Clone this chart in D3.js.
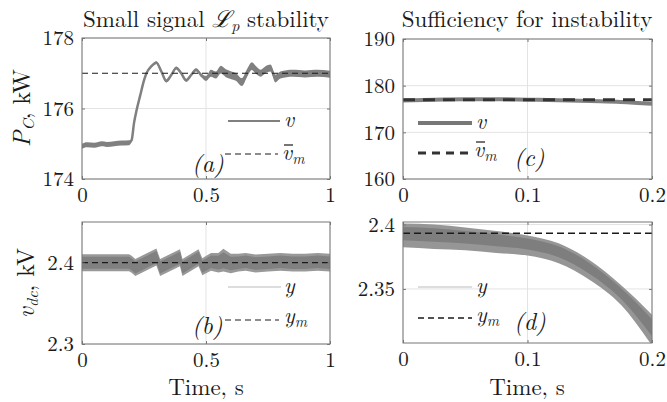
<!DOCTYPE html>
<html>
<head>
<meta charset="utf-8">
<script src="https://cdn.jsdelivr.net/npm/d3@7"></script>
<style>
  body { margin: 0; background: #fff; }
</style>
</head>
<body>
<svg width="667" height="402"></svg>
<script>
// (a) power, small signal case
var tA = [0, 0.02, 0.05, 0.08, 0.1, 0.13, 0.16, 0.19, 0.2, 0.21, 0.22, 0.234, 0.25, 0.26, 0.28, 0.3, 0.32, 0.34, 0.36, 0.38, 0.40, 0.42, 0.44, 0.46, 0.48, 0.5, 0.52, 0.54, 0.56, 0.58, 0.6, 0.62, 0.645, 0.665, 0.685, 0.7, 0.72, 0.74, 0.76, 0.78, 0.8, 0.85, 0.9, 0.95, 1.0];
var vA = [174.93, 174.97, 174.96, 175.0, 174.98, 175.0, 175.02, 175.03, 175.1, 175.6, 175.95, 176.35, 176.8, 177.0, 177.2, 177.3, 177.05, 176.78, 176.95, 177.15, 177.0, 176.8, 176.95, 177.1, 176.95, 176.85, 177.0, 176.95, 177.1, 177.0, 176.95, 176.9, 176.75, 177.0, 177.2, 177.1, 177.0, 177.1, 177.15, 176.85, 176.95, 177.0, 176.98, 177.0, 176.97];
var nA = [0.07, 0.07, 0.07, 0.07, 0.07, 0.07, 0.07, 0.07, 0.03, 0.02, 0.02, 0.02, 0.02, 0.02, 0.03, 0.04, 0.04, 0.04, 0.04, 0.04, 0.04, 0.04, 0.04, 0.04, 0.05, 0.07, 0.1, 0.1, 0.11, 0.11, 0.11, 0.11, 0.11, 0.11, 0.11, 0.11, 0.1, 0.1, 0.1, 0.11, 0.1, 0.1, 0.1, 0.1, 0.1];
var vmA = 177;

// (b) dc voltage, small signal case
var tB = [0, 0.1, 0.19, 0.2, 0.215, 0.3, 0.315, 0.395, 0.405, 0.47, 0.485, 0.52, 0.55, 0.57, 0.6, 0.63, 0.66, 0.7, 0.75, 0.8, 0.85, 0.9, 0.95, 1.0];
var yB = [2.400, 2.400, 2.400, 2.398, 2.394, 2.407, 2.394, 2.406, 2.394, 2.406, 2.395, 2.401, 2.400, 2.403, 2.399, 2.400, 2.401, 2.399, 2.400, 2.401, 2.400, 2.400, 2.401, 2.400];
var hB = [0.0105, 0.0105, 0.0105, 0.0105, 0.0105, 0.0105, 0.0105, 0.0105, 0.0105, 0.0105, 0.0105, 0.011, 0.012, 0.014, 0.012, 0.011, 0.011, 0.011, 0.011, 0.011, 0.011, 0.011, 0.011, 0.011];
var ymB = 2.4;

// (c) power, instability case
var tC = [0, 0.025, 0.05, 0.075, 0.1, 0.125, 0.15, 0.175, 0.2];
var vC = [176.8, 177.0, 177.1, 177.1, 177.0, 176.9, 176.7, 176.5, 176.1];
var vmC = 177;

// (d) dc voltage, instability case (ripple envelope)
var tD = [0, 0.025, 0.05, 0.075, 0.1, 0.125, 0.15, 0.175, 0.2];
var upD = [2.4008, 2.4, 2.3977, 2.395, 2.3915, 2.3854, 2.3723, 2.353, 2.330];
var loD = [2.3823, 2.381, 2.380, 2.378, 2.376, 2.370, 2.357, 2.3377, 2.306];
var ymD = 2.3933;

var FONT = "'Latin Modern Roman'";
var svg = d3.select("svg");
var gray = "#808080";
var ink = "#1a1a1a";

function txt(g, x, y, size) {
  return g.append("text").attr("x", x).attr("y", y).style("font-family", FONT)
    .attr("font-size", size).attr("fill", ink);
}

function panel(o) {
  var x = d3.scaleLinear().domain(o.xd).range([o.x0, o.x1]);
  var y = d3.scaleLinear().domain(o.yd).range([o.y1, o.y0]);
  var g = svg.append("g");
  var clipId = "clip" + o.name;
  g.append("clipPath").attr("id", clipId).append("rect")
    .attr("x", o.x0).attr("y", o.y0).attr("width", o.x1 - o.x0).attr("height", o.y1 - o.y0);

  // grid
  g.append("g").selectAll("line").data(o.xt).enter().append("line")
    .attr("x1", d => x(d)).attr("x2", d => x(d)).attr("y1", o.y0).attr("y2", o.y1)
    .attr("stroke", "#e3e3e3").attr("stroke-width", 1);
  g.append("g").selectAll("line").data(o.yt).enter().append("line")
    .attr("y1", d => y(d)).attr("y2", d => y(d)).attr("x1", o.x0).attr("x2", o.x1)
    .attr("stroke", "#e3e3e3").attr("stroke-width", 1);

  var body = g.append("g").attr("clip-path", "url(#" + clipId + ")");
  o.draw(body, x, y);

  // axes, MATLAB style box with inward ticks
  var fmt = o.yfmt || (d => d);
  var ax = g.append("g").attr("transform", "translate(0," + o.y1 + ")")
    .call(d3.axisBottom(x).tickValues(o.xt).tickSize(-3).tickPadding(8).tickFormat(d => d));
  g.append("g").attr("transform", "translate(" + o.x0 + ",0)")
    .call(d3.axisLeft(y).tickValues(o.yt).tickSize(-3).tickPadding(8).tickFormat(fmt));
  g.append("g").attr("transform", "translate(0," + o.y0 + ")")
    .call(d3.axisTop(x).tickValues(o.xt).tickSize(-3).tickFormat(""));
  g.append("g").attr("transform", "translate(" + o.x1 + ",0)")
    .call(d3.axisRight(y).tickValues(o.yt).tickSize(-3).tickFormat(""));
  g.selectAll(".domain").remove();
  g.selectAll(".tick text").style("font-family", FONT).attr("font-size", 21).attr("fill", ink);
  g.selectAll(".tick line").attr("stroke", "#777");
  ax.selectAll("text").attr("dy", "0.71em");
  g.append("rect").attr("x", o.x0).attr("y", o.y0).attr("width", o.x1 - o.x0).attr("height", o.y1 - o.y0)
    .attr("fill", "none").attr("stroke", "#777").attr("stroke-width", 1);
  return { x: x, y: y, g: g };
}

function mathText(g, x, y, base, sub, bar) {
  var t = txt(g, x, y, 22).attr("font-style", "italic");
  t.append("tspan").text(base);
  if (sub) t.append("tspan").attr("font-size", 15).attr("dy", 4).text(sub);
  if (bar) {
    g.append("line").attr("x1", x + 2).attr("x2", x + 11).attr("y1", y - 15).attr("y2", y - 15)
      .attr("stroke", ink).attr("stroke-width", 1.2);
  }
  return t;
}

function label(g, x, y, s) {
  txt(g, x, y, 24).attr("font-style", "italic").text(s);
}

// panel (a)
var pa = panel({
  name: "a", x0: 82, x1: 330, y0: 38, y1: 179, xd: [0, 1], yd: [174, 178],
  xt: [0, 0.5, 1], yt: [174, 176, 178],
  draw: function(b, x, y) {
    var idx = d3.range(tA.length);
    b.append("path").datum(idx)
      .attr("d", d3.area().curve(d3.curveMonotoneX).x(i => x(tA[i])).y0(i => y(vA[i] - nA[i])).y1(i => y(vA[i] + nA[i])))
      .attr("fill", gray);
    b.append("path").datum(idx)
      .attr("d", d3.line().curve(d3.curveMonotoneX).x(i => x(tA[i])).y(i => y(vA[i])))
      .attr("fill", "none").attr("stroke", gray).attr("stroke-width", 2.5);
    b.append("line").attr("x1", x(0)).attr("x2", x(1)).attr("y1", y(vmA)).attr("y2", y(vmA))
      .attr("stroke", ink).attr("stroke-width", 1.2).attr("stroke-dasharray", "6,4");
  }
});
pa.g.append("line").attr("x1", 228).attr("x2", 280).attr("y1", 121).attr("y2", 121).attr("stroke", gray).attr("stroke-width", 2);
pa.g.append("line").attr("x1", 225).attr("x2", 278).attr("y1", 154).attr("y2", 154).attr("stroke", ink).attr("stroke-width", 1.2).attr("stroke-dasharray", "6,4");
mathText(pa.g, 284, 127, "v");
mathText(pa.g, 282, 160, "v", "m", true);
label(pa.g, 192, 172, "(a)");

// panel (b)
var pb = panel({
  name: "b", x0: 82, x1: 330, y0: 222, y1: 344, xd: [0, 1], yd: [2.3, 2.45],
  xt: [0, 0.5, 1], yt: [2.3, 2.4], yfmt: d3.format(".1f"),
  draw: function(b, x, y) {
    var idx = d3.range(tB.length);
    b.append("path").datum(idx)
      .attr("d", d3.area().x(i => x(tB[i])).y0(i => y(yB[i] - hB[i])).y1(i => y(yB[i] + hB[i])))
      .attr("fill", "#999");
    b.append("path").datum(idx)
      .attr("d", d3.area().x(i => x(tB[i])).y0(i => y(yB[i] - hB[i] * 0.7)).y1(i => y(yB[i] + hB[i] * 0.7)))
      .attr("fill", gray);
    b.append("line").attr("x1", x(0)).attr("x2", x(1)).attr("y1", y(ymB)).attr("y2", y(ymB))
      .attr("stroke", ink).attr("stroke-width", 1.2).attr("stroke-dasharray", "6,4");
  }
});
pb.g.append("line").attr("x1", 228).attr("x2", 281).attr("y1", 287).attr("y2", 287).attr("stroke", "#bbb").attr("stroke-width", 1);
pb.g.append("line").attr("x1", 225).attr("x2", 279).attr("y1", 320).attr("y2", 320).attr("stroke", ink).attr("stroke-width", 1.2).attr("stroke-dasharray", "6,4");
mathText(pb.g, 284, 293, "y");
mathText(pb.g, 284, 323, "y", "m");
label(pb.g, 192, 334, "(b)");

// panel (c)
var pc = panel({
  name: "c", x0: 403, x1: 652, y0: 39, y1: 179, xd: [0, 0.2], yd: [160, 190],
  xt: [0, 0.1, 0.2], yt: [160, 170, 180, 190],
  draw: function(b, x, y) {
    b.append("path").datum(d3.range(tC.length))
      .attr("d", d3.line().curve(d3.curveMonotoneX).x(i => x(tC[i])).y(i => y(vC[i])))
      .attr("fill", "none").attr("stroke", gray).attr("stroke-width", 4);
    b.append("line").attr("x1", x(0)).attr("x2", x(0.2)).attr("y1", y(vmC)).attr("y2", y(vmC))
      .attr("stroke", "#333").attr("stroke-width", 3).attr("stroke-dasharray", "12,8");
  }
});
pc.g.append("line").attr("x1", 418).attr("x2", 472).attr("y1", 123).attr("y2", 123).attr("stroke", "#777").attr("stroke-width", 4);
pc.g.append("line").attr("x1", 418).attr("x2", 472).attr("y1", 153).attr("y2", 153).attr("stroke", "#333").attr("stroke-width", 3).attr("stroke-dasharray", "8,6");
mathText(pc.g, 476, 129, "v");
mathText(pc.g, 474, 157, "v", "m", true);
label(pc.g, 514, 166, "(c)");

// panel (d)
var pd = panel({
  name: "d", x0: 403, x1: 652, y0: 222, y1: 343, xd: [0, 0.2], yd: [2.308, 2.402],
  xt: [0, 0.1, 0.2], yt: [2.35, 2.4], yfmt: d => d3.format(".2f")(d).replace(/0$/, ""),
  draw: function(b, x, y) {
    var idx = d3.range(tD.length);
    b.append("path").datum(idx)
      .attr("d", d3.area().curve(d3.curveMonotoneX).x(i => x(tD[i])).y0(i => y(loD[i])).y1(i => y(upD[i])))
      .attr("fill", "#969696");
    b.append("path").datum(idx)
      .attr("d", d3.area().curve(d3.curveMonotoneX).x(i => x(tD[i])).y0(i => y(loD[i] + (upD[i] - loD[i]) * 0.3)).y1(i => y(upD[i] - (upD[i] - loD[i]) * 0.15)))
      .attr("fill", "#7e7e7e");
    b.append("line").attr("x1", x(0)).attr("x2", x(0.2)).attr("y1", y(ymD)).attr("y2", y(ymD))
      .attr("stroke", ink).attr("stroke-width", 1.5).attr("stroke-dasharray", "7,4");
  }
});
pd.g.append("line").attr("x1", 418).attr("x2", 472).attr("y1", 287).attr("y2", 287).attr("stroke", "#bbb").attr("stroke-width", 1);
pd.g.append("line").attr("x1", 418).attr("x2", 472).attr("y1", 318).attr("y2", 318).attr("stroke", ink).attr("stroke-width", 1.5).attr("stroke-dasharray", "6,4");
mathText(pd.g, 476, 293, "y");
mathText(pd.g, 476, 322, "y", "m");
label(pd.g, 514, 330, "(d)");

// titles
txt(svg, 206, 27, 23).attr("text-anchor", "middle")
  .call(t => {
    t.append("tspan").text("Small signal ");
    t.append("tspan").attr("font-style", "italic").text("ℒ");
    t.append("tspan").attr("font-size", 16).attr("font-style", "italic").attr("dy", 4).text("p");
    t.append("tspan").attr("dy", -4).text(" stability");
  });
txt(svg, 527, 27, 23).attr("text-anchor", "middle").text("Sufficiency for instability");

// y labels
txt(svg, 0, 0, 24).attr("transform", "translate(30,108) rotate(-90)").attr("text-anchor", "middle")
  .call(t => {
    t.append("tspan").attr("font-style", "italic").text("P");
    t.append("tspan").attr("font-size", 16).attr("font-style", "italic").attr("dy", 4).text("C");
    t.append("tspan").attr("dy", -4).text(", kW");
  });
txt(svg, 0, 0, 24).attr("transform", "translate(34,283) rotate(-90)").attr("text-anchor", "middle")
  .call(t => {
    t.append("tspan").attr("font-style", "italic").text("v");
    t.append("tspan").attr("font-size", 16).attr("font-style", "italic").attr("dy", 4).text("dc");
    t.append("tspan").attr("dy", -4).text(", kV");
  });

// x labels
txt(svg, 206, 395, 23).attr("text-anchor", "middle").text("Time, s");
txt(svg, 527, 395, 23).attr("text-anchor", "middle").text("Time, s");
</script>
</body>
</html>
